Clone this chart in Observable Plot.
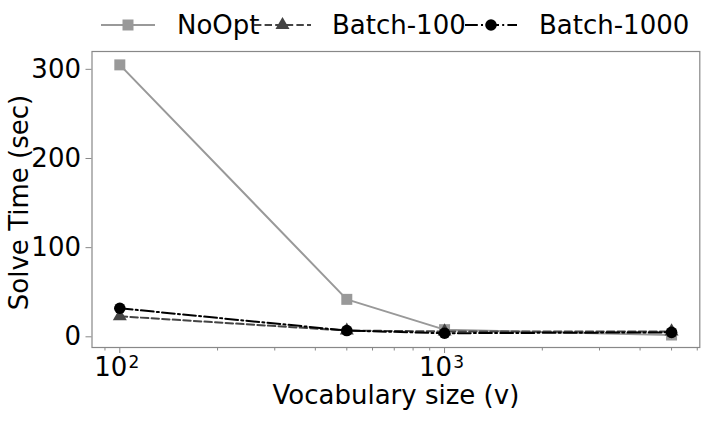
<!DOCTYPE html>
<html><head><meta charset="utf-8">
<script src="https://cdn.jsdelivr.net/npm/d3@7"></script>
<script src="https://cdn.jsdelivr.net/npm/@observablehq/plot@0.6"></script>
<style>
body{margin:0;background:#fff;font-family:"DejaVu Sans",sans-serif;}
#legend{height:40px;width:706px;display:block;}
#chart svg{display:block;overflow:visible;}
</style></head><body>
<svg id="legend" width="706" height="40"></svg>
<div id="chart"></div>
<script>
const vocab = [100, 500, 1000, 5000];
const noOpt = [305, 42, 8, 2];
const batch100 = [23, 7, 6, 6];
const batch1000 = [32, 7, 4, 5];
const seriesNames = ["NoOpt", "Batch-100", "Batch-1000"];
const yTicks = [0, 100, 200, 300];
const xMajorTicks = [100, 1000];
const xMajorBase = ["10", "10"];
const xMajorExp = ["2", "3"];
const xMinorTicks = [90, 200, 300, 400, 500, 600, 700, 800, 900, 2000, 3000, 4000, 5000, 6000];
const xLabel = "Vocabulary size (v)";
const yLabel = "Solve Time (sec)";

const styles = [
  {color: "#999999", dash: null, symbol: "square", r: 6.2},
  {color: "#444444", dash: "7.4,3.2", symbol: "triangle", r: 5.2},
  {color: "#000000", dash: "12.8,3.2,2,3.2", symbol: "circle", r: 5.8}
];
const seriesValues = [noOpt, batch100, batch1000];
const data = seriesNames.flatMap((s, k) => vocab.map((v, i) => ({series: s, k, v, t: seriesValues[k][i]})));

const marks = [
  Plot.frame({stroke: "#888", strokeWidth: 1.2}),
  Plot.axisY(yTicks, {tickSize: 6, tickPadding: 5, stroke: "#888", label: null, fontSize: 26, fill: "black"}),
  Plot.axisX(xMinorTicks, {tickSize: 3.5, tickFormat: () => "", stroke: "#888", label: null}),
  Plot.axisX(xMajorTicks, {tickSize: 6, tickFormat: () => "", stroke: "#888", label: null}),
  Plot.text(xMajorTicks, {x: d => d, frameAnchor: "bottom", lineAnchor: "middle", textAnchor: "middle",
    text: (d, i) => xMajorBase[i], dx: -9, dy: 20.4, fontSize: 26, fill: "black"}),
  Plot.text(xMajorTicks, {x: d => d, frameAnchor: "bottom", lineAnchor: "middle", textAnchor: "middle",
    text: (d, i) => xMajorExp[i], dx: 14, dy: 14.9, fontSize: 17, fill: "black"}),
  Plot.text([yLabel], {frameAnchor: "left", textAnchor: "middle", lineAnchor: "middle", text: d => d,
    rotate: -90, dx: -72.8, dy: 3, fontSize: 26, fill: "black"}),
  Plot.text([xLabel], {frameAnchor: "bottom", textAnchor: "middle", lineAnchor: "middle", text: d => d,
    dy: 48, fontSize: 26, fill: "black"})
];
seriesNames.forEach((s, k) => {
  const st = styles[k];
  const d = data.filter(e => e.k === k);
  marks.push(Plot.line(d, {x: "v", y: "t", stroke: st.color, strokeWidth: 2, strokeDasharray: st.dash}));
  marks.push(Plot.dot(d, {x: "v", y: "t", symbol: st.symbol, r: st.r, fill: st.color, stroke: "none"}));
});

const chart = Plot.plot({
  width: 706, height: 384,
  marginTop: 11, marginBottom: 77, marginLeft: 91.5, marginRight: 6.7,
  style: {fontFamily: "DejaVu Sans", fontSize: "26px", color: "black", background: "white"},
  x: {type: "log", domain: [82.1, 6109]},
  y: {domain: [-12, 320]},
  marks
});
document.getElementById("chart").appendChild(chart);

// legend
const lg = d3.select("#legend");
const legendPos = [{x0: 101, x1: 155, tx: 177}, {x0: 254, x1: 311, tx: 332}, {x0: 465, x1: 517, tx: 539}];
seriesNames.forEach((s, k) => {
  const st = styles[k], p = legendPos[k];
  const cy = 25;
  lg.append("line").attr("x1", p.x0).attr("x2", p.x1).attr("y1", cy).attr("y2", cy)
    .attr("stroke", st.color).attr("stroke-width", 2).attr("stroke-dasharray", st.dash);
  const sym = {square: d3.symbolSquare, triangle: d3.symbolTriangle, circle: d3.symbolCircle}[st.symbol];
  lg.append("path").attr("transform", `translate(${(p.x0 + p.x1) / 2},${cy})`)
    .attr("d", d3.symbol(sym, Math.PI * st.r * st.r)()).attr("fill", st.color);
  lg.append("text").attr("x", p.tx).attr("y", 34).attr("font-size", 26)
    .attr("font-family", "DejaVu Sans").attr("fill", "black").text(s);
});
</script>
</body></html>
